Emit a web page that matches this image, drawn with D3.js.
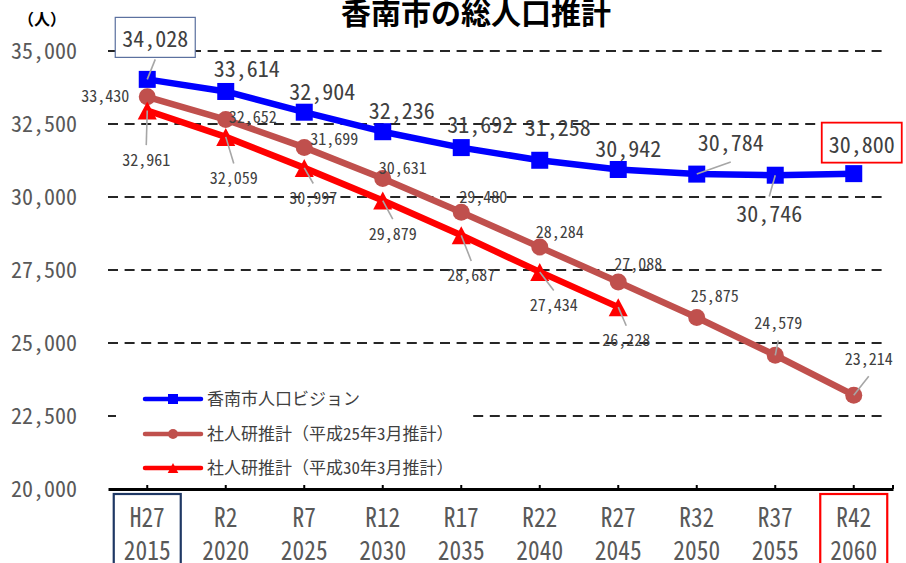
<!DOCTYPE html>
<html lang="ja">
<head>
<meta charset="UTF-8" />
<title>香南市の総人口推計</title>
<style>
  body { margin: 0; background: #fff; }
  svg text { font-family: "Noto Sans Mono CJK JP", "Noto Sans CJK JP", sans-serif; }
</style>
</head>
<body>
<div id="chart"></div>
<script src="https://cdnjs.cloudflare.com/ajax/libs/d3/7.8.5/d3.min.js"></script>
<script>
// data
var eraLabels = ['H27', 'R2', 'R7', 'R12', 'R17', 'R22', 'R27', 'R32', 'R37', 'R42'];
var yearLabels = ['2015', '2020', '2025', '2030', '2035', '2040', '2045', '2050', '2055', '2060'];
var visionValues = [34028, 33614, 32904, 32236, 31692, 31258, 30942, 30784, 30746, 30800];
var ipss2013Values = [33430, 32652, 31699, 30631, 29480, 28284, 27088, 25875, 24579, 23214];
var ipss2018Values = [32961, 32059, 30997, 29879, 28687, 27434, 26228];
var yTicks = [20000, 22500, 25000, 27500, 30000, 32500, 35000];
var seriesNames = ['香南市人口ビジョン', '社人研推計（平成25年3月推計）', '社人研推計（平成30年3月推計）'];

// label placement (offset of label centre / baseline from its point)
var visionOffsets = [[8, -32], [21, -14], [18, -12], [19, -13], [19, -15], [18, -24], [10, -12], [34, -23], [-6, 47], [8, -21]];
var visionLeaders = [1, 0, 0, 0, 0, 0, 0, 1, 1, 0];
var visionBoxed = [1, 0, 0, 0, 0, 0, 0, 0, 0, 1];
var ipss2013Offsets = [[-42, 5], [27, 3], [30, -2], [20, -5], [22, -9], [20, -9], [20, -12], [18, -15], [3, -26], [15, -30]];
var ipss2013Leaders = [0, 0, 0, 0, 0, 0, 0, 0, 1, 1];
var ipss2018Offsets = [[-1, 55], [8, 47], [9, 36], [10, 39], [10, 46], [14, 39], [8, 39]];
var ipss2018Leaders = [1, 1, 1, 1, 1, 1, 1];

var width = 906;
var height = 563;
var fmt = d3.format(',');

var svg = d3.select('#chart').append('svg')
  .attr('width', width)
  .attr('height', height);

var x = d3.scaleBand().domain(yearLabels).range([108, 893]);
var y = d3.scaleLinear().domain([20000, 35000]).range([489, 51]);
var cx = function (i) { return x(yearLabels[i]) + x.bandwidth() / 2; };

// gridlines
svg.append('g').selectAll('line')
  .data(yTicks.slice(1))
  .enter().append('line')
  .attr('x1', 108).attr('x2', 888)
  .attr('y1', function (d) { return y(d); })
  .attr('y2', function (d) { return y(d); })
  .attr('stroke', '#262626')
  .attr('stroke-width', 2)
  .attr('stroke-dasharray', '10,6.6');

// y tick labels
svg.append('g').selectAll('text')
  .data(yTicks)
  .enter().append('text')
  .attr('x', 77)
  .attr('y', function (d) { return y(d) + 8; })
  .attr('text-anchor', 'end')
  .attr('font-size', 22)
  .attr('fill', '#595959')
  .text(function (d) { return fmt(d); });

// x axis
var xAxis = d3.axisTop(x).tickSize(0).tickFormat('');
var ax = svg.append('g').attr('transform', 'translate(0,' + y(20000) + ')').call(xAxis);
ax.select('.domain').attr('stroke', '#000').attr('stroke-width', 3);
ax.selectAll('.tickmark')
  .data(yearLabels.map(function (d, i) { return cx(i); }).concat([893]))
  .enter().append('line')
  .attr('class', 'tickmark')
  .attr('x1', function (d) { return d; }).attr('x2', function (d) { return d; })
  .attr('y1', 0).attr('y2', -4)
  .attr('stroke', '#000').attr('stroke-width', 2);

var xl = svg.append('g');
yearLabels.forEach(function (yr, i) {
  xl.append('text')
    .attr('x', cx(i)).attr('y', 527)
    .attr('text-anchor', 'middle')
    .attr('font-size', 27)
    .attr('fill', '#595959')
    .attr('textLength', eraLabels[i].length * 11.7)
    .attr('lengthAdjust', 'spacingAndGlyphs')
    .text(eraLabels[i]);
  xl.append('text')
    .attr('x', cx(i)).attr('y', 560)
    .attr('text-anchor', 'middle')
    .attr('font-size', 27)
    .attr('fill', '#595959')
    .attr('textLength', yr.length * 11.7)
    .attr('lengthAdjust', 'spacingAndGlyphs')
    .text(yr);
});
// highlight boxes round first and last category
[[0, '#1F3864'], [yearLabels.length - 1, '#FF0000']].forEach(function (b) {
  svg.append('rect')
    .attr('x', cx(b[0]) - 33.5).attr('y', 494)
    .attr('width', 67).attr('height', 80)
    .attr('fill', 'none')
    .attr('stroke', b[1])
    .attr('stroke-width', 2.2);
});

// title and unit
svg.append('text')
  .attr('x', 476).attr('y', 24)
  .attr('text-anchor', 'middle')
  .attr('font-size', 30)
  .attr('font-weight', 'bold')
  .style('font-family', '"Noto Sans CJK JP", sans-serif')
  .attr('fill', '#000')
  .text('香南市の総人口推計');
svg.append('text')
  .attr('x', 42).attr('y', 25)
  .attr('text-anchor', 'middle')
  .attr('font-size', 16)
  .attr('font-weight', 'bold')
  .style('font-family', '"Noto Sans CJK JP", sans-serif')
  .attr('fill', '#000')
  .text('（人）');

// legend (white box hides the gridline behind it)
svg.append('rect')
  .attr('x', 116).attr('y', 380)
  .attr('width', 354).attr('height', 102)
  .attr('fill', '#fff');

var series = [
  { name: seriesNames[0], values: visionValues, color: '#0000FF', marker: 'square',
    offsets: visionOffsets, leaders: visionLeaders, boxed: visionBoxed, size: 22 },
  { name: seriesNames[1], values: ipss2013Values, color: '#C0504D', marker: 'circle',
    offsets: ipss2013Offsets, leaders: ipss2013Leaders, boxed: null, size: 16 },
  { name: seriesNames[2], values: ipss2018Values, color: '#FF0000', marker: 'triangle',
    offsets: ipss2018Offsets, leaders: ipss2018Leaders, boxed: null, size: 16 }
];

function drawMarker(g, type, color, s) {
  if (type === 'square') {
    g.append('rect').attr('x', -s / 2).attr('y', -s / 2).attr('width', s).attr('height', s).attr('fill', color);
  } else if (type === 'circle') {
    g.append('circle').attr('r', s / 2).attr('fill', color);
  } else {
    g.append('path').attr('d', 'M0,' + (-s / 2) + 'L' + (s * 0.53) + ',' + (s / 2) + 'L' + (-s * 0.53) + ',' + (s / 2) + 'Z').attr('fill', color);
  }
}

var legendY = [399, 434, 468];
series.forEach(function (s, k) {
  var lg = svg.append('g').attr('transform', 'translate(0,' + legendY[k] + ')');
  lg.append('line').attr('x1', 145).attr('x2', 201).attr('y1', 0).attr('y2', 0)
    .attr('stroke', s.color).attr('stroke-width', 4.5).attr('stroke-linecap', 'round');
  drawMarker(lg.append('g').attr('transform', 'translate(173,0)'), s.marker, s.color, 10);
  lg.append('text').attr('x', 207).attr('y', 6)
    .attr('font-size', 17).attr('fill', '#404040')
    .text(s.name);
});

// lines and markers
var line = d3.line()
  .x(function (d, i) { return cx(i); })
  .y(function (d) { return y(d); });

series.forEach(function (s) {
  svg.append('path')
    .datum(s.values)
    .attr('d', line)
    .attr('fill', 'none')
    .attr('stroke', s.color)
    .attr('stroke-width', 6.5)
    .attr('stroke-linejoin', 'round');
  s.values.forEach(function (v, i) {
    var sz = s.marker === 'square' ? 17 : (s.marker === 'circle' ? 17 : 18);
    drawMarker(svg.append('g').attr('transform', 'translate(' + cx(i) + ',' + y(v) + ')'), s.marker, s.color, sz);
  });
});

// data labels with leader lines
series.forEach(function (s) {
  s.values.forEach(function (v, i) {
    var px = cx(i), py = y(v);
    var lx = px + s.offsets[i][0], ly = py + s.offsets[i][1];
    var txt = fmt(v);
    var tw = txt.length * s.size * 0.5;
    var boxed = s.boxed && s.boxed[i];
    if (boxed) {
      svg.append('rect')
        .attr('x', lx - tw / 2 - 7).attr('y', ly - 30)
        .attr('width', tw + 14).attr('height', 40)
        .attr('fill', '#fff')
        .attr('stroke', i === 0 ? '#5A6F9E' : '#FF0000')
        .attr('stroke-width', i === 0 ? 1.2 : 1.8);
    }
    if (s.leaders[i]) {
      var ey;
      if (boxed) ey = ly + 12;
      else if (ly < py) ey = ly + 11;
      else ey = ly - (s.size * 0.9 + 6);
      svg.append('line')
        .attr('x1', px).attr('y1', py)
        .attr('x2', lx).attr('y2', ey)
        .attr('stroke', '#A6A6A6')
        .attr('stroke-width', 1.6);
    }
    svg.append('text')
      .attr('x', lx).attr('y', ly)
      .attr('text-anchor', 'middle')
      .attr('font-size', s.size)
      .attr('fill', '#404040')
      .text(txt);
  });
});
</script>
</body>
</html>
